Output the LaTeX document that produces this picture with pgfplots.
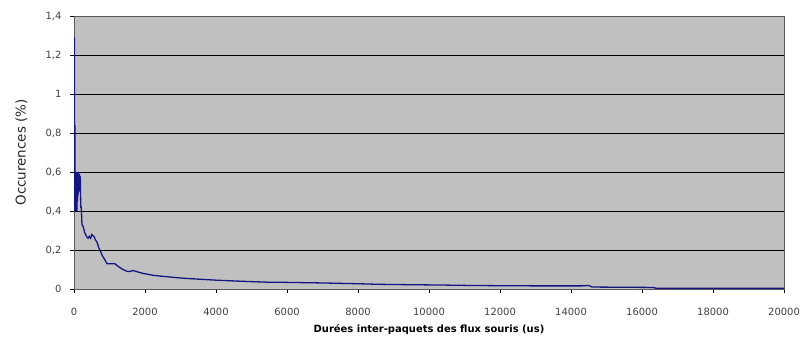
\documentclass[border=0pt]{standalone}
\usepackage{pgfplots}
\pgfplotsset{compat=1.18}
\usepackage{fontspec}
\setmainfont{DejaVu Sans}
\definecolor{bggray}{RGB}{192,192,192}
\definecolor{curve}{RGB}{20,20,130}
\begin{document}
\begin{tikzpicture}[x=1bp,y=1bp]
\path[use as bounding box] (0,0) rectangle (807,338);
\begin{axis}[
  at={(74bp,49bp)}, anchor=south west,
  scale only axis, width=710bp, height=273bp,
  xmin=0, xmax=20000, ymin=0, ymax=1.4,
  xtick={0,2000,...,20000}, ytick={0,0.2,...,1.4},
  axis background/.style={fill=bggray},
  axis line style={draw=gray!70!black, line width=0.6pt},
  ymajorgrids, grid style={black, line width=0.5pt},
  tick style={black, line width=0.6pt},
  tick align=outside, major tick length=4bp,
  xtick pos=bottom, ytick pos=left,
  scaled x ticks=false,
  /pgf/number format/assume math mode=true,
  /pgf/number format/use comma,
  /pgf/number format/1000 sep={},
  tick label style={font=\fontsize{10}{12}\selectfont, text=black!75},
  xticklabel style={anchor=north, yshift=-12bp},
  yticklabel style={anchor=east, xshift=-5bp},
  xlabel={\textbf{Durées inter-paquets des flux souris (us)}},
  xlabel style={font=\fontsize{10}{11}\selectfont, at={(axis description cs:0.5,0)}, anchor=center, yshift=-41bp},
  ylabel={Occurences (\%)},
  ylabel style={font=\fontsize{13.5}{15}\selectfont, text=black!85, at={(axis description cs:-0.074,0.5)}, anchor=center},
]
\addplot[curve, line width=1.3pt] coordinates {
(5,0.40) (10,1.29) (15,0.85) (20,0.40) (25,0.84) (30,0.42) (35,0.60) (40,0.40)
(48,0.58) (55,0.41) (62,0.60) (70,0.42) (78,0.58) (85,0.40) (92,0.60) (100,0.45)
(108,0.59) (115,0.48) (122,0.60) (130,0.50) (138,0.58) (145,0.52) (152,0.59) (160,0.50)
(168,0.58) (178,0.57) (190,0.42) (205,0.42) (225,0.33) (260,0.32) (300,0.29) (350,0.27)
(395,0.26) (430,0.27) (470,0.26) (500,0.28) (560,0.27) (610,0.25) (650,0.24) (700,0.21)
(730,0.20) (800,0.17) (870,0.15) (930,0.13) (1000,0.13) (1150,0.13) (1250,0.115) (1380,0.10)
(1500,0.09) (1580,0.09) (1660,0.095) (1750,0.09) (1850,0.085) (1940,0.08) (2100,0.075) (2230,0.07)
(2500,0.065) (2790,0.06) (3100,0.055) (3550,0.05) (4030,0.045) (4680,0.04) (5440,0.035) (6000,0.034)
(7000,0.031) (8000,0.027) (8600,0.024) (9500,0.022) (10500,0.020) (11200,0.018) (12000,0.017) (13000,0.016)
(14300,0.016) (14500,0.018) (14600,0.010) (15500,0.009) (16300,0.008) (16400,0.004) (18000,0.004) (20000,0.004)
};
\end{axis}
\end{tikzpicture}
\end{document}
